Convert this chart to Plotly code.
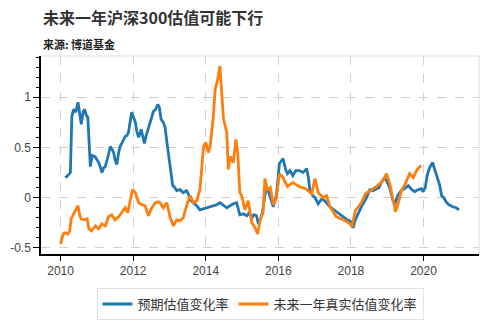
import plotly.graph_objects as go

# 预期估值变化率 (decimal year, value)
pred_x = [2010.13,2010.20,2010.27,2010.31,2010.36,2010.42,2010.48,2010.53,2010.57,2010.62,2010.66,2010.71,2010.75,2010.80,2010.82,2010.87,2010.94,2011.00,2011.05,2011.10,2011.14,2011.19,2011.23,2011.30,2011.37,2011.42,2011.46,2011.50,2011.55,2011.60,2011.64,2011.70,2011.78,2011.83,2011.87,2011.96,2012.01,2012.06,2012.10,2012.15,2012.22,2012.27,2012.31,2012.36,2012.42,2012.50,2012.56,2012.62,2012.68,2012.72,2012.77,2012.83,2012.88,2012.93,2012.98,2013.02,2013.09,2013.15,2013.20,2013.29,2013.38,2013.47,2013.52,2013.57,2013.66,2013.75,2013.84,2013.94,2014.03,2014.12,2014.21,2014.30,2014.39,2014.48,2014.58,2014.67,2014.76,2014.85,2014.94,2015.03,2015.13,2015.20,2015.27,2015.33,2015.40,2015.45,2015.50,2015.56,2015.63,2015.68,2015.74,2015.80,2015.86,2015.95,2016.03,2016.13,2016.20,2016.25,2016.32,2016.40,2016.48,2016.58,2016.68,2016.78,2016.83,2016.87,2016.95,2017.01,2017.10,2017.20,2017.28,2017.42,2017.60,2017.70,2017.79,2017.90,2018.00,2018.06,2018.12,2018.20,2018.29,2018.43,2018.52,2018.60,2018.70,2018.77,2018.85,2018.93,2018.98,2019.07,2019.16,2019.22,2019.30,2019.39,2019.48,2019.58,2019.68,2019.76,2019.85,2019.94,2019.99,2020.05,2020.10,2020.17,2020.25,2020.32,2020.40,2020.45,2020.50,2020.56,2020.62,2020.70,2020.81,2020.90,2020.98]
pred_y = [0.20,0.22,0.25,0.81,0.88,0.85,0.95,0.85,0.73,0.85,0.88,0.82,0.80,0.45,0.31,0.42,0.41,0.38,0.35,0.30,0.25,0.30,0.31,0.40,0.51,0.48,0.45,0.38,0.33,0.45,0.51,0.55,0.61,0.62,0.65,0.85,0.80,0.75,0.66,0.60,0.68,0.60,0.54,0.62,0.70,0.80,0.86,0.88,0.93,0.90,0.78,0.75,0.70,0.55,0.40,0.28,0.12,0.10,0.07,0.08,0.05,0.07,0.04,-0.02,-0.05,-0.08,-0.12,-0.11,-0.10,-0.09,-0.08,-0.07,-0.05,-0.07,-0.10,-0.08,-0.06,-0.05,-0.17,-0.16,-0.18,-0.15,-0.20,-0.17,-0.18,-0.26,-0.22,-0.15,0.03,0.10,0.05,-0.02,-0.09,0.03,0.34,0.39,0.28,0.24,0.27,0.22,0.27,0.27,0.25,0.29,0.20,0.07,0.02,0.00,-0.06,-0.01,-0.03,-0.09,-0.14,-0.16,-0.19,-0.22,-0.24,-0.30,-0.22,-0.15,-0.09,0.00,0.08,0.07,0.09,0.10,0.16,0.20,0.17,0.10,-0.03,-0.05,0.03,0.07,0.09,0.12,0.08,0.06,0.08,0.09,0.06,0.10,0.22,0.30,0.35,0.27,0.20,0.12,0.02,0.00,-0.04,-0.07,-0.09,-0.10,-0.12]

# 未来一年真实估值变化率
real_x = [2010.00,2010.04,2010.07,2010.13,2010.20,2010.25,2010.29,2010.36,2010.42,2010.48,2010.53,2010.57,2010.65,2010.73,2010.78,2010.85,2010.92,2010.96,2011.05,2011.14,2011.23,2011.32,2011.41,2011.50,2011.60,2011.69,2011.78,2011.85,2011.92,2011.98,2012.06,2012.15,2012.24,2012.33,2012.42,2012.50,2012.61,2012.70,2012.74,2012.83,2012.93,2013.02,2013.11,2013.20,2013.29,2013.38,2013.48,2013.57,2013.66,2013.75,2013.84,2013.89,2013.94,2014.00,2014.07,2014.12,2014.21,2014.26,2014.32,2014.39,2014.43,2014.49,2014.58,2014.62,2014.67,2014.76,2014.83,2014.88,2014.94,2014.99,2015.08,2015.17,2015.27,2015.36,2015.43,2015.50,2015.58,2015.63,2015.70,2015.78,2015.86,2015.95,2016.03,2016.13,2016.25,2016.40,2016.58,2016.75,2016.92,2017.01,2017.10,2017.24,2017.33,2017.42,2017.60,2017.79,2017.98,2018.03,2018.12,2018.20,2018.29,2018.40,2018.52,2018.70,2018.89,2018.98,2019.07,2019.16,2019.23,2019.30,2019.39,2019.50,2019.62,2019.72,2019.81,2019.90,2019.94]
real_y = [-0.46,-0.40,-0.36,-0.35,-0.36,-0.33,-0.21,-0.16,-0.12,-0.08,-0.18,-0.21,-0.22,-0.21,-0.31,-0.33,-0.30,-0.28,-0.31,-0.26,-0.28,-0.19,-0.17,-0.22,-0.19,-0.15,-0.10,-0.15,-0.02,0.08,0.05,-0.05,-0.07,-0.08,-0.18,-0.11,-0.05,-0.04,-0.05,-0.10,-0.05,-0.20,-0.28,-0.22,-0.23,-0.20,-0.07,0.02,-0.05,-0.03,0.08,0.28,0.51,0.55,0.45,0.51,0.81,1.08,1.16,1.31,1.11,0.78,0.65,0.28,0.41,0.35,0.58,0.45,0.05,0.02,-0.12,-0.03,-0.25,-0.30,-0.36,-0.22,-0.15,0.19,0.08,0.10,-0.07,0.00,0.24,0.20,0.11,0.15,0.11,0.09,0.04,0.19,0.05,0.00,0.02,-0.09,-0.19,-0.22,-0.26,-0.29,-0.13,-0.09,-0.05,0.04,0.07,0.11,0.17,0.24,0.14,0.00,-0.14,-0.06,0.07,0.14,0.24,0.20,0.27,0.31,0.32]

x_ticks = [2010, 2012, 2014, 2016, 2018, 2020]
y_ticks = [-0.5, 0, 0.5, 1]
y_tick_text = ["-0.5", "0", "0.5", "1"]

fig = go.Figure()
fig.add_trace(go.Scatter(x=pred_x, y=pred_y, mode="lines", name="预期估值变化率",
                         line=dict(color="#1f77b4", width=2.8)))
fig.add_trace(go.Scatter(x=real_x, y=real_y, mode="lines", name="未来一年真实估值变化率",
                         line=dict(color="#ff7f0e", width=2.8)))

font_cjk = "Noto Sans CJK SC, Liberation Sans, sans-serif"
fig.update_layout(
    width=489, height=333,
    margin=dict(l=41, r=10, t=56, b=79),
    plot_bgcolor="white", paper_bgcolor="white",
    font=dict(family=font_cjk, color="#333"),
    showlegend=True,
    legend=dict(orientation="h", x=0.5, xanchor="center", y=-0.172, yanchor="top",
                bordercolor="#e3e3e3", borderwidth=1, font=dict(size=13, color="#333"),
                itemwidth=30),
    annotations=[
        dict(text="<b>未来一年沪深300估值可能下行</b>", x=0, xref="paper", xanchor="left",
             y=1.195, yref="paper", yanchor="middle", showarrow=False,
             font=dict(size=16, color="#333", family=font_cjk)),
        dict(text="<b>来源: 博道基金</b>", x=0, xref="paper", xanchor="left",
             y=1.06, yref="paper", yanchor="middle", showarrow=False,
             font=dict(size=11, color="#222", family=font_cjk)),
    ],
)
fig.update_xaxes(range=[2009.46, 2021.53], tickvals=x_ticks, ticktext=[str(v) for v in x_ticks],
                 showline=True, linecolor="black", linewidth=1.5, mirror=False,
                 ticks="outside", ticklen=5, tickcolor="black",
                 showgrid=True, gridcolor="#d0d0d0", griddash="dash", gridwidth=1,
                 zeroline=False, tickfont=dict(size=12, color="#444", family="Liberation Sans, Arial"))
fig.update_yaxes(range=[-0.56, 1.41], tickvals=y_ticks, ticktext=y_tick_text,
                 showline=True, linecolor="black", linewidth=1.5, mirror=False,
                 ticks="outside", ticklen=6, tickcolor="black",
                 minor=dict(ticks="outside", dtick=0.1, tick0=0, ticklen=3, tickcolor="black", showgrid=False),
                 showgrid=True, gridcolor="#d0d0d0", griddash="dash", gridwidth=1,
                 zeroline=False, tickfont=dict(size=12, color="#444", family="Liberation Sans, Arial"))
# light top/right frame
fig.add_shape(type="line", xref="paper", yref="paper", x0=0, x1=1, y0=1, y1=1,
              line=dict(color="#dddddd", width=1))
fig.add_shape(type="line", xref="paper", yref="paper", x0=1, x1=1, y0=0, y1=1,
              line=dict(color="#dddddd", width=1))

fig.write_html("out.html")
